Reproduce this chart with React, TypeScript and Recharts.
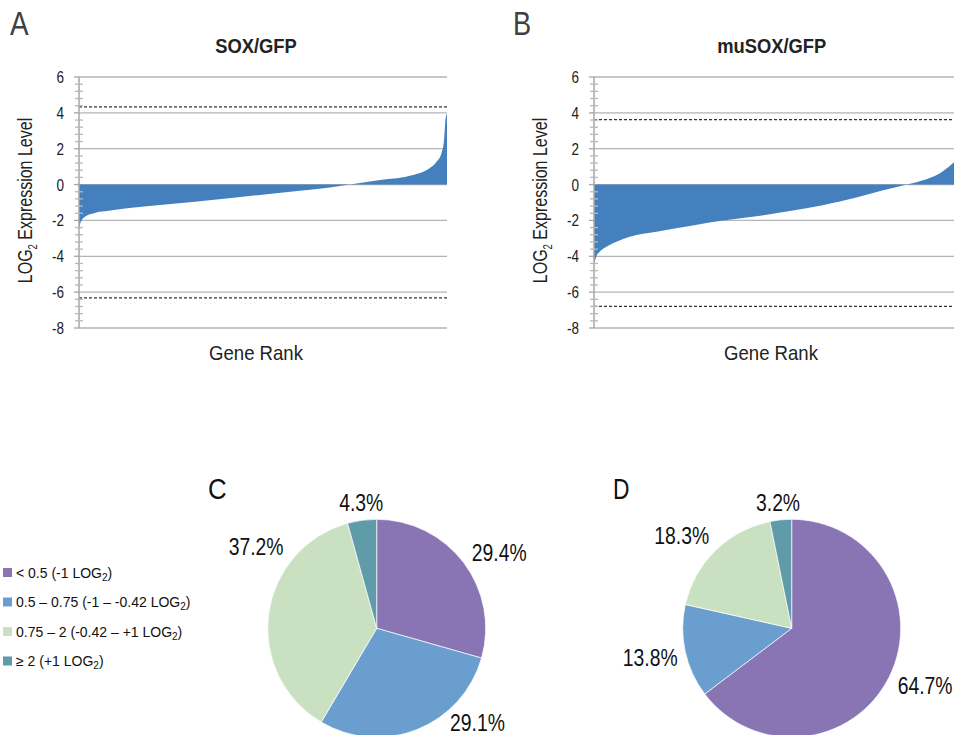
import React from 'react';
import { AreaChart, Area, XAxis, YAxis, CartesianGrid, ReferenceLine, PieChart, Pie, Cell } from 'recharts';

const FONT = '"Liberation Sans Narrow", "Arial Narrow", "Liberation Sans", Arial, sans-serif';
const LEGEND_FONT = '"Liberation Sans", Arial, sans-serif';

// ---- Panel A / B data (gene rank in % of genes, LOG2 expression) ----
const soxRank = [0, 0.3, 1.6, 4.3, 8, 17, 31.5, 42, 51, 60, 68.2, 73.6, 81.8, 90.8, 94.5, 97.2, 98.5, 99.2, 99.6, 100];
const soxValues = [-2.45, -2.2, -1.8, -1.58, -1.46, -1.24, -0.96, -0.73, -0.54, -0.35, -0.17, 0, 0.25, 0.53, 0.81, 1.28, 1.75, 2.5, 3.64, 3.95];
const soxThresholds = [4.33, -6.32];

const musoxRank = [0, 0.2, 0.65, 1.55, 3.4, 6.1, 9.7, 17, 26, 31.4, 44.1, 53.2, 62.2, 66.8, 75.8, 80.3, 84.9, 90.3, 93.9, 97.5, 100];
const musoxValues = [-4.45, -4.3, -4.0, -3.75, -3.47, -3.19, -2.91, -2.63, -2.31, -2.12, -1.77, -1.47, -1.15, -0.95, -0.47, -0.24, 0, 0.3, 0.62, 1.19, 1.7];
const musoxThresholds = [3.62, -6.79];

const yMajorTicks = [-8, -6, -4, -2, 0, 2, 4, 6];
const yMinorStep = 0.4;
const yAllTicks: number[] = [];
for (let i = 0; i <= 35; i++) yAllTicks.push(Math.round((-8 + i * yMinorStep) * 10) / 10);

// ---- Panel C / D data ----
const pieCategories = ['< 0.5 (-1 LOG2)', '0.5 \u2013 0.75 (-1 \u2013 -0.42 LOG2)', '0.75 \u2013 2 (-0.42 \u2013 +1 LOG2)', '\u2265 2 (+1 LOG2)'];
const pieColors = ['#8975b4', '#6a9ecf', '#c9e0c1', '#5f9ba8'];
const soxShares = [29.4, 29.1, 37.2, 4.3];
const musoxShares = [64.7, 13.8, 18.3, 3.2];

// label placement (polar: degrees, px from centre)
const soxLabelAngles = [31.7, -43.1, 145.7, 97];
const soxLabelRadii = [144, 138, 146, 127];
const musoxLabelAngles = [-23.1, 191.7, 139.7, 96.2];
const musoxLabelRadii = [145, 144.5, 144.2, 126.5];

// condensed text helper: horizontally squeezed text (emulates a narrow face)
function NText({ x, y, sx, children, ...rest }: any) {
  return (
    <text x={0} y={0} transform={`translate(${x}, ${y}) scale(${sx}, 1)`} {...rest}>
      {children}
    </text>
  );
}

const YTick = (props: any) => {
  const { x, y, payload } = props;
  const v = payload.value;
  const major = yMajorTicks.some((t) => Math.abs(t - v) < 1e-6);
  return (
    <g>
      {major ? (
        <line x1={x - 5} x2={x} y1={y} y2={y} stroke="#a6a6a6" strokeWidth={1.3} />
      ) : (
        <line x1={x - 4} x2={x + 4} y1={y} y2={y} stroke="#b8b8b8" strokeWidth={1.3} />
      )}
      {major && (
        <NText x={x - 15} y={y + 6} sx={0.82} textAnchor="end" fontSize={16.5} fontFamily={FONT} fill="#222">
          {v}
        </NText>
      )}
    </g>
  );
};

const YLabel = (props: any) => {
  const vb = props.viewBox || {};
  const cx = vb.x + vb.width - 47;
  const cy = vb.y + vb.height / 2 - 2;
  return (
    <text
      x={0}
      y={0}
      transform={`translate(${cx}, ${cy}) rotate(-90) scale(0.8, 1)`}
      textAnchor="middle"
      fontSize={20}
      fontFamily={FONT}
      fill="#222"
    >
      LOG<tspan fontSize={12} dy={5}>2</tspan>
      <tspan dy={-5}> Expression Level</tspan>
    </text>
  );
};

const XLabel = (props: any) => {
  const vb = props.viewBox || {};
  return (
    <NText x={vb.x + vb.width / 2 - 7} y={vb.y + 32} sx={0.885} textAnchor="middle" fontSize={21} fontFamily={FONT} fill="#222">
      Gene Rank
    </NText>
  );
};

function RankChart({ rank, values, thresholds, left }: { rank: number[]; values: number[]; thresholds: number[]; left: number }) {
  const data = rank.map((r, i) => ({ rank: r, value: values[i] }));
  return (
    <div style={{ position: 'absolute', left, top: 0 }}>
      <AreaChart width={460} height={365} data={data} margin={{ top: 77, right: 13, bottom: 0, left: 0 }}>
        <CartesianGrid vertical={false} horizontalValues={yMajorTicks} stroke="#b4b4b4" strokeWidth={1.3} />
        <XAxis type="number" dataKey="rank" domain={[0, 100]} tick={false} tickLine={false} axisLine={false} height={37} label={<XLabel />} />
        <YAxis
          type="number"
          domain={[-8, 6]}
          ticks={yAllTicks}
          interval={0}
          tick={<YTick />}
          tickLine={false}
          tickSize={0}
          tickMargin={0}
          axisLine={{ stroke: '#a6a6a6', strokeWidth: 1.5 }}
          width={79}
          allowDataOverflow
          label={<YLabel />}
        />
        <Area type="monotone" dataKey="value" fill="#4480be" fillOpacity={1} stroke="none" baseValue={0} isAnimationActive={false} />
        {thresholds.map((t) => (
          <ReferenceLine key={t} y={t} stroke="#333" strokeWidth={1.2} strokeDasharray="3 2" />
        ))}
      </AreaChart>
    </div>
  );
}

function makePieLabel(angles: number[], radii: number[]) {
  return (props: any) => {
    const { cx, cy, index, value } = props;
    const a = (angles[index] * Math.PI) / 180;
    const x = cx + radii[index] * Math.cos(a);
    const y = cy - radii[index] * Math.sin(a);
    return (
      <NText x={x} y={y + 8.5} sx={0.79} textAnchor="middle" fontSize={24.5} fontFamily={FONT} fill="#111">
        {value.toFixed(1)}%
      </NText>
    );
  };
}

function SharePie({ shares, angles, radii, left, width, cx }: { shares: number[]; angles: number[]; radii: number[]; left: number; width: number; cx: number }) {
  const data = pieCategories.map((c, i) => ({ name: c, value: shares[i] }));
  return (
    <div style={{ position: 'absolute', left, top: 470 }}>
      <PieChart width={width} height={265} margin={{ top: 0, right: 0, bottom: 0, left: 0 }}>
        <Pie
          data={data}
          dataKey="value"
          cx={cx}
          cy={158.3}
          outerRadius={109}
          startAngle={90}
          endAngle={-270}
          stroke="#ffffff"
          strokeWidth={0.7}
          labelLine={false}
          label={makePieLabel(angles, radii)}
          isAnimationActive={false}
        >
          {data.map((d, i) => (
            <Cell key={d.name} fill={pieColors[i]} />
          ))}
        </Pie>
      </PieChart>
    </div>
  );
}

function LegendText({ text }: { text: string }) {
  const idx = text.indexOf('LOG2');
  const before = text.slice(0, idx + 3);
  const after = text.slice(idx + 4);
  return (
    <>
      {before}
      <tspan fontSize={10} dy={3}>2</tspan>
      <tspan dy={-3}>{after}</tspan>
    </>
  );
}

export default function App() {
  const legendCenters = [572.5, 602, 631.5, 661];
  return (
    <div style={{ position: 'absolute', left: 0, top: 0, width: 954, height: 735, overflow: 'hidden', background: '#fff' }}>
      <RankChart rank={soxRank} values={soxValues} thresholds={soxThresholds} left={0} />
      <RankChart rank={musoxRank} values={musoxValues} thresholds={musoxThresholds} left={515} />
      <SharePie shares={soxShares} angles={soxLabelAngles} radii={soxLabelRadii} left={200} width={360} cx={176.7} />
      <SharePie shares={musoxShares} angles={musoxLabelAngles} radii={musoxLabelRadii} left={600} width={354} cx={191.7} />
      <svg width={954} height={735} style={{ position: 'absolute', left: 0, top: 0, pointerEvents: 'none' }}>
        <NText x={10} y={35} sx={0.82} fontSize={34} fontFamily={FONT} fill="#404040">A</NText>
        <NText x={513} y={35} sx={0.8} fontSize={34} fontFamily={FONT} fill="#404040">B</NText>
        <NText x={208} y={499} sx={0.86} fontSize={30} fontFamily={FONT} fill="#111">C</NText>
        <NText x={613} y={499} sx={0.76} fontSize={30} fontFamily={FONT} fill="#111">D</NText>
        <NText x={256} y={53} sx={0.92} textAnchor="middle" fontSize={20} fontWeight="bold" fontFamily={FONT} fill="#222">SOX/GFP</NText>
        <NText x={771.7} y={53} sx={0.917} textAnchor="middle" fontSize={20} fontWeight="bold" fontFamily={FONT} fill="#222">muSOX/GFP</NText>
        {pieCategories.map((c, i) => (
          <g key={c}>
            <rect x={3} y={legendCenters[i] - 4.5} width={9} height={9} fill={pieColors[i]} />
            <text x={16} y={legendCenters[i] + 5} fontSize={14} fontFamily={LEGEND_FONT} fill="#111">
              <LegendText text={c} />
            </text>
          </g>
        ))}
      </svg>
    </div>
  );
}
